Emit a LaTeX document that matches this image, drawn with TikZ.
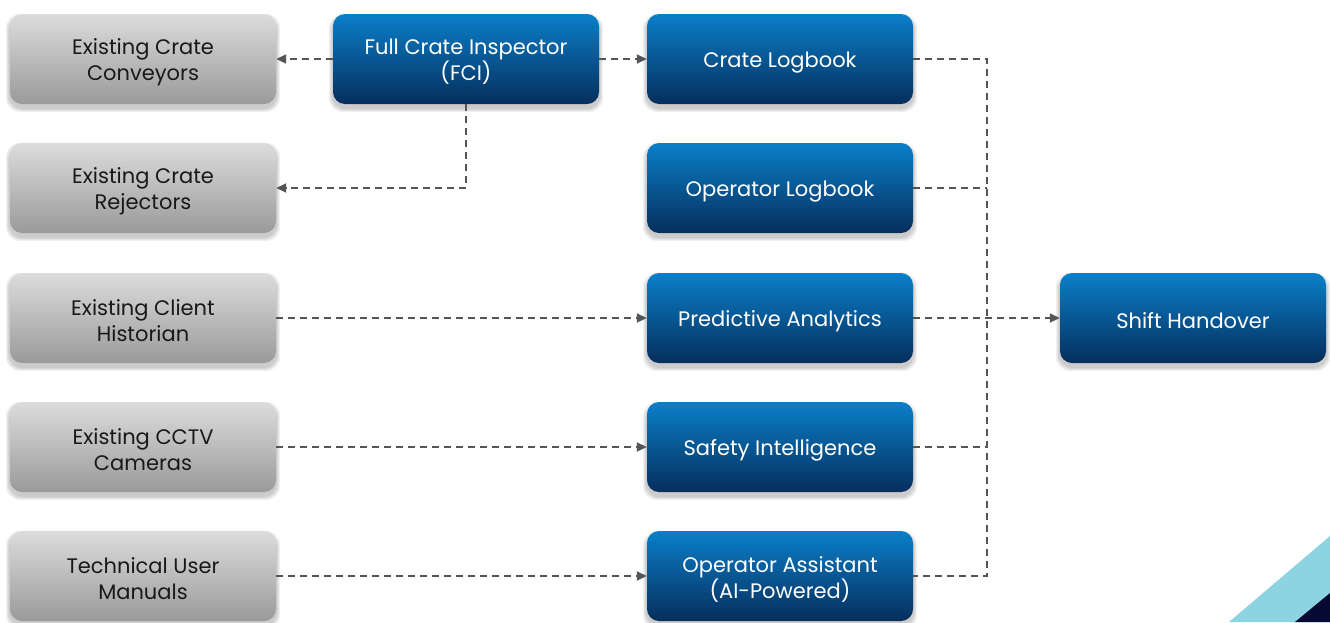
\documentclass[tikz,border=0pt]{standalone}
\usepackage{fontspec}
\setmainfont{Poppins}
\usetikzlibrary{arrows.meta}
\definecolor{btop}{HTML}{0A7FC9}
\definecolor{bbot}{HTML}{062E5C}
\definecolor{gtop}{HTML}{DCDCDC}
\definecolor{gbot}{HTML}{9A9A9A}
\definecolor{lnk}{HTML}{555555}
\definecolor{lblue}{HTML}{8ED3E2}
\definecolor{navy}{HTML}{060A33}
\pgfdeclarelayer{bg}
\pgfsetlayers{bg,main}
\tikzset{
  x=1pt,y=-1pt,
  basebox/.style={minimum width=266pt,minimum height=90pt,rounded corners=12pt,inner sep=0pt},
  gbox/.style={basebox,top color=gtop,bottom color=gbot},
  bbox/.style={basebox,top color=btop,bottom color=bbot},
  gtxt/.style={align=center,inner sep=0pt,font=\fontsize{21}{26}\selectfont,text=black!90},
  btxt/.style={align=center,inner sep=0pt,font=\fontsize{21}{26}\selectfont,text=white},
  shd/.style={fill=black,opacity=0.045,rounded corners=14pt},
  link/.style={draw=lnk,line width=1.8pt,dash pattern=on 7pt off 5pt},
  arr/.style={link,-{Triangle[length=10pt,width=9pt]}},
}
\newcommand\bx[5]{%
  \node[#1box] (#2) at (#3) {};
  \node[#1txt] (#2t) at ([yshift=-#5pt]#2.center) {#4};
  \begin{pgfonlayer}{bg}
    \foreach \i in {1,2,3,4,5}{
      \fill[shd] ([shift={(-\i*0.8,-\i*0.8+4)}]#2.north west) rectangle ([shift={(\i*0.8,\i*0.8+4)}]#2.south east);
    }
  \end{pgfonlayer}}
\begin{document}
\begin{tikzpicture}
\useasboundingbox (0,0) rectangle (1330,622);
% corner decoration
\fill[lblue] (1330,536) -- (1330,622) -- (1229,622) -- cycle;
\fill[navy] (1330,593) -- (1330,622) -- (1295,622) -- cycle;
% left column
\bx{g}{conv}{143,59}{Existing Crate\\Conveyors}{3}
\bx{g}{rej}{143,188}{Existing Crate\\Rejectors}{3}
\bx{g}{hist}{143,318}{Existing Client\\Historian}{3}
\bx{g}{cctv}{143,447}{Existing CCTV\\Cameras}{3}
\bx{g}{man}{143,576}{Technical User\\Manuals}{3}
% FCI
\bx{b}{fci}{466,59}{Full Crate Inspector\\(FCI)}{3}
% middle column
\bx{b}{clog}{780,59}{Crate Logbook}{3.5}
\bx{b}{olog}{780,188}{Operator Logbook}{3.5}
\bx{b}{pred}{780,318}{Predictive Analytics}{3}
\bx{b}{safe}{780,447}{Safety Intelligence}{3}
\bx{b}{asst}{780,576}{Operator Assistant\\(AI-Powered)}{3}
% right
\bx{b}{shift}{1193,318}{Shift Handover}{2.5}
\coordinate (bt) at (987,59);
\coordinate (bb) at (987,576);
% connectors
\draw[arr] (fci.west) -- (conv.east);
\draw[arr] (fci.east) -- (clog.west);
\draw[arr] (fci.south) |- (rej.east);
\draw[arr] (hist.east) -- (pred.west);
\draw[arr] (cctv.east) -- (safe.west);
\draw[arr] (man.east) -- (asst.west);
\draw[link] (clog.east) -- (bt) -- (bb) -- (asst.east);
\draw[link] (olog.east) -- (olog.east -| bt);
\draw[link] (safe.east) -- (safe.east -| bt);
\draw[arr] (pred.east) -- (shift.west);
\end{tikzpicture}
\end{document}
